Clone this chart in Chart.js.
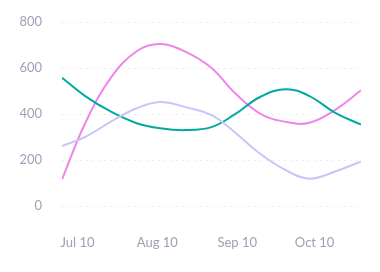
<!DOCTYPE html>
<html>
<head>
<meta charset="utf-8">
<script src="https://cdn.jsdelivr.net/npm/chart.js@4/dist/chart.umd.min.js"></script>
<style>
  html, body { margin: 0; padding: 0; background: #fff; }
  #wrap { width: 380px; height: 272px; }
</style>
</head>
<body>
<div id="wrap"><canvas id="lineChart"></canvas></div>
<script>
// days counted from Jul 1
var days = [3, 12, 22, 32, 41, 51, 61, 70, 80, 90, 99, 109, 119];
var pinkValues = [116, 360, 558, 673, 704, 670, 600, 492, 401, 365, 362, 418, 503];
var tealValues = [558, 478, 410, 360, 338, 330, 343, 398, 475, 508, 478, 405, 354];
var lavenderValues = [261, 300, 367, 425, 452, 430, 395, 321, 226, 155, 119, 150, 194];

var tickDays = [9, 40, 71, 101];
var tickLabels = ['Jul 10', 'Aug 10', 'Sep 10', 'Oct 10'];
var yTicks = [0, 200, 400, 600, 800];

function points(vals) {
    return vals.map(function (v, i) { return { x: days[i], y: v }; });
}

function series(vals, color) {
    return {
        data: points(vals),
        borderColor: color,
        borderWidth: 2,
        pointRadius: 0,
        fill: false,
        tension: 0.4
    };
}

var tickColor = '#9da1b6';

window.onload = function () {
    var ctx = document.getElementById('lineChart').getContext('2d');
    new Chart(ctx, {
        type: 'line',
        data: {
            datasets: [
                series(lavenderValues, '#c9c5f8'),
                series(tealValues, '#00aa9f'),
                series(pinkValues, '#ee85ea')
            ]
        },
        options: {
            responsive: true,
            maintainAspectRatio: false,
            animation: false,
            layout: { padding: { top: 22, right: 19, left: 0, bottom: 0 } },
            plugins: { legend: { display: false }, tooltip: { enabled: false } },
            scales: {
                x: {
                    type: 'linear',
                    min: 3,
                    max: 119,
                    grid: { display: false, drawTicks: false },
                    border: { display: false },
                    afterBuildTicks: function (scale) {
                        scale.ticks = tickDays.map(function (d) { return { value: d }; });
                    },
                    afterFit: function (scale) { scale.height = 43; },
                    ticks: {
                        color: tickColor,
                        font: { family: 'Lato', size: 13 },
                        padding: 6,
                        maxRotation: 0,
                        callback: function (v) {
                            var i = tickDays.indexOf(v);
                            return i >= 0 ? tickLabels[i] : '';
                        }
                    }
                },
                y: {
                    min: -100,
                    max: 800,
                    grid: {
                        color: '#ececf0',
                        lineWidth: 1,
                        drawTicks: true,
                        tickLength: 20,
                        tickColor: 'rgba(0,0,0,0)'
                    },
                    border: { display: false, dash: [2, 4] },
                    afterBuildTicks: function (scale) {
                        scale.ticks = yTicks.map(function (v) { return { value: v }; });
                    },
                    afterFit: function (scale) { scale.width = 62; },
                    ticks: {
                        color: tickColor,
                        font: { family: 'Lato', size: 13 },
                        padding: 0
                    }
                }
            }
        }
    });
};
</script>
</body>
</html>
